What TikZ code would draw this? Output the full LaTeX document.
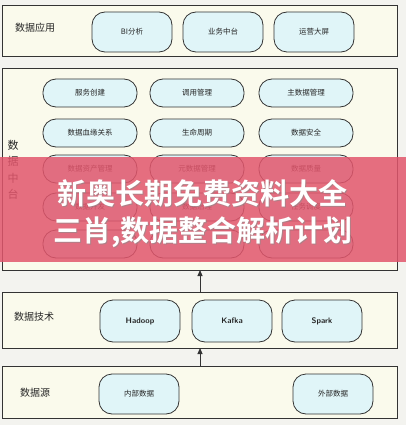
\documentclass[tikz,border=0pt]{standalone}
\usepackage{fontspec}
\setmainfont{Noto Sans CJK SC}
\newfontfamily\cjkb{Noto Sans CJK SC Bold}
\usetikzlibrary{arrows.meta}
\definecolor{bgc}{HTML}{F3F3EF}
\definecolor{secfill}{HTML}{FAFAEC}
\definecolor{nodefill}{HTML}{E0F5F8}
\definecolor{edgec}{HTML}{333333}
\definecolor{bannerc}{HTML}{E2566C}
\tikzset{
  x=1pt,y=-1pt,
  sec/.style={draw=edgec, line width=1pt, fill=secfill},
  nd/.style={draw=edgec, line width=0.8pt, fill=nodefill, rounded corners=13pt, font=\fontsize{7.5}{9}\selectfont, text=black!85},
  lbl/.style={font=\fontsize{10}{12}\selectfont, text=black!85},
  arr/.style={-{Triangle[length=6pt,width=5pt]}, line width=1pt, draw=edgec},
  banner/.style={fill=bannerc, fill opacity=0.85, draw=none},
  btxt/.style={font=\cjkb\fontsize{29}{32}\selectfont, text=white, draw=none}
}
\begin{document}
\begin{tikzpicture}
\useasboundingbox (0,0) rectangle (406,425);
\fill[bgc] (0,0) rectangle (406,425);
% sections
\node[sec, minimum width=395pt, minimum height=51pt, anchor=north west] (s1) at (2,5) {};
\node[sec, minimum width=395pt, minimum height=202pt, anchor=north west] (s2) at (2,68) {};
\node[sec, minimum width=395pt, minimum height=56pt, anchor=north west] (s3) at (2,292) {};
\node[sec, minimum width=395pt, minimum height=52pt, anchor=north west] (s4) at (2,366) {};
% section labels
\node[lbl] (l1) at (35,28) {数据应用};
\node[lbl, align=center, font=\fontsize{11}{16.5}\selectfont] (l2) at (13,170) {数\\据\\中\\台};
\node[lbl] (l3) at (34,317) {数据技术};
\node[lbl] (l4) at (35,393) {数据源};
% app nodes
\node[nd, minimum width=80pt, minimum height=40pt] (a1) at (132,32) {BI分析};
\node[nd, minimum width=80pt, minimum height=40pt] (a2) at (223,32) {业务中台};
\node[nd, minimum width=80pt, minimum height=40pt] (a3) at (314,32) {运营大屏};
% middle nodes
\node[nd, minimum width=94pt, minimum height=28pt] (m11) at (90,93) {服务创建};
\node[nd, minimum width=94pt, minimum height=28pt] (m12) at (197,93) {调用管理};
\node[nd, minimum width=94pt, minimum height=28pt] (m13) at (306,93) {主数据管理};
\node[nd, minimum width=94pt, minimum height=28pt] (m21) at (90,133) {数据血缘关系};
\node[nd, minimum width=94pt, minimum height=28pt] (m22) at (197,133) {生命周期};
\node[nd, minimum width=94pt, minimum height=28pt] (m23) at (306,133) {数据安全};
\node[nd, minimum width=94pt, minimum height=28pt] (m31) at (90,169) {数据资产管理};
\node[nd, minimum width=94pt, minimum height=28pt] (m32) at (197,169) {元数据管理};
\node[nd, minimum width=94pt, minimum height=28pt] (m33) at (306,169) {数据质量};
\node[nd, minimum width=94pt, minimum height=28pt] (m41) at (90,207) {数据开发};
\node[nd, minimum width=94pt, minimum height=28pt] (m42) at (197,207) {数据治理};
\node[nd, minimum width=94pt, minimum height=28pt] (m43) at (306,207) {任务调度};
\node[nd, minimum width=94pt, minimum height=28pt] (m51) at (90,244) {};
\node[nd, minimum width=94pt, minimum height=28pt] (m52) at (197,244) {};
\node[nd, minimum width=94pt, minimum height=28pt] (m53) at (306,244) {};
% tech nodes
\node[nd, minimum width=80pt, minimum height=42pt, font=\sffamily\bfseries\fontsize{8}{9}\selectfont] (t1) at (140,321) {Hadoop};
\node[nd, minimum width=80pt, minimum height=42pt, font=\sffamily\bfseries\fontsize{8}{9}\selectfont] (t2) at (232,321) {Kafka};
\node[nd, minimum width=80pt, minimum height=42pt, font=\sffamily\bfseries\fontsize{8}{9}\selectfont] (t3) at (322,321) {Spark};
% source nodes
\node[nd, minimum width=80pt, minimum height=40pt] (d1) at (139,394) {内部数据};
\node[nd, minimum width=80pt, minimum height=40pt] (d2) at (333,394) {外部数据};
% arrows
\coordinate (c3) at (200,292);
\coordinate (c2) at (200,270);
\coordinate (c4) at (200,366);
\coordinate (c3b) at (200,348);
\draw[arr] (c3) -- (c2);
\draw[arr] (c4) -- (c3b);
% overlay banner
\node[banner, minimum width=406pt, minimum height=105pt, anchor=north west] (bn) at (0,157) {};
\node[btxt, text=black!45, opacity=0.6] (b1s) at (203,194) {新奥长期免费资料大全};
\node[btxt, text=black!45, opacity=0.6] (b2s) at (204,233) {三肖,数据整合解析计划};
\node[btxt] (b1) at (202,193) {新奥长期免费资料大全};
\node[btxt] (b2) at (203,232) {三肖,数据整合解析计划};
\end{tikzpicture}
\end{document}
